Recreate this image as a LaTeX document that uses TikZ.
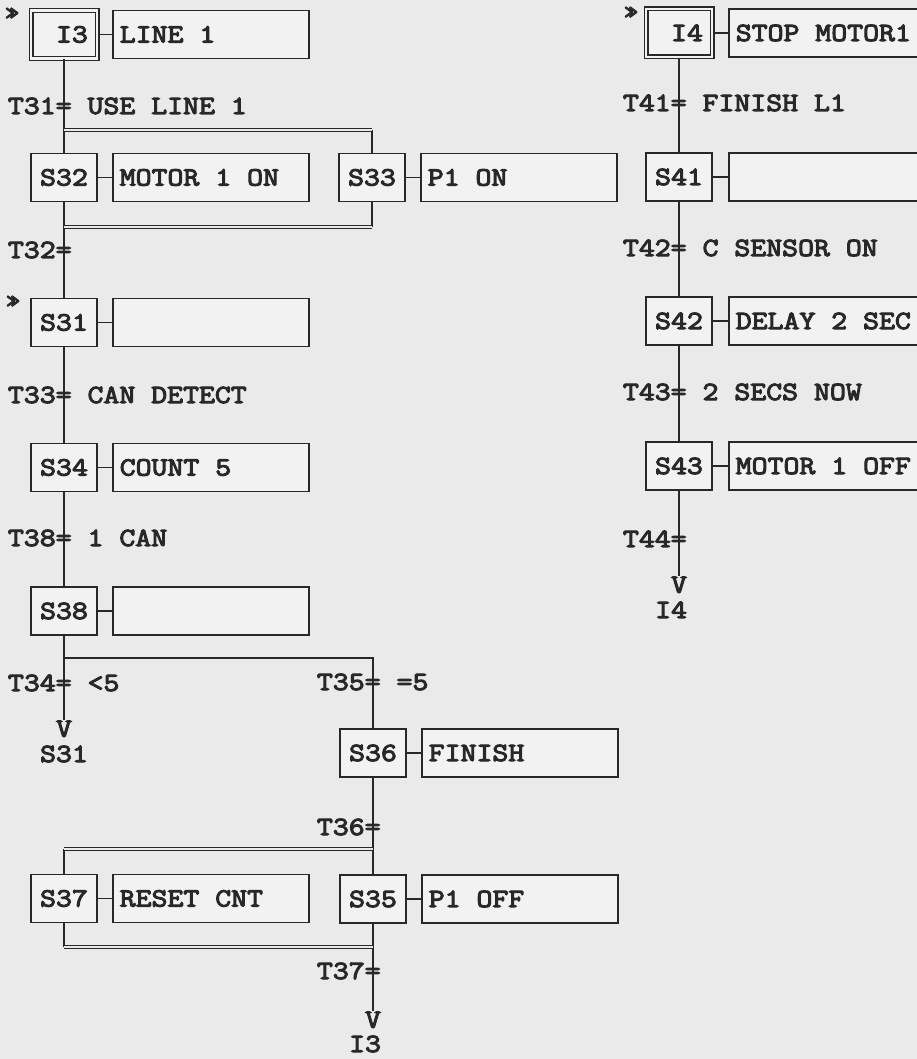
\documentclass[tikz,border=0pt]{standalone}
\usepackage{fontspec}
\newfontfamily\courfont[FakeStretch=1.18, FakeBold=4]{Latin Modern Mono}
\usepackage{tikz}
\usetikzlibrary{positioning}
\definecolor{ink}{RGB}{40,40,40}
\definecolor{paper}{RGB}{234,234,234}
\definecolor{boxfill}{RGB}{242,242,242}
\newcommand{\grafcetfont}{\fontsize{26.2}{30}\selectfont\courfont}
\newcommand{\actext}[1]{\makebox[182pt][l]{#1}}

\begin{document}
\begin{tikzpicture}[x=1pt, y=-1pt, color=ink, line width=1.5pt,
    stepbox/.style={draw, fill=boxfill, minimum width=66pt, minimum height=48pt, inner sep=0pt, text height=16pt, text depth=0pt, font=\grafcetfont},
    initbox/.style={stepbox, double=boxfill, double distance=2.6pt, line width=1.2pt},
    actbox/.style={draw, fill=boxfill, anchor=west, minimum height=48pt, inner xsep=7pt, inner ysep=0pt, text height=16pt, text depth=0pt, font=\grafcetfont},
    trans/.style={anchor=base west, xshift=-56.8pt, inner sep=0pt, font=\grafcetfont},
    jumpv/.style={anchor=north, inner sep=0pt, text height=16pt, text depth=0pt, font=\grafcetfont},
    jumplabel/.style={anchor=base, inner sep=0pt, text height=16pt, text depth=0pt, font=\grafcetfont},
    initmark/.style={inner sep=0pt, font=\fontsize{23}{23}\selectfont\courfont},
    dbl/.style={double=paper, double distance=2pt, line width=1.1pt}]
    \fill[paper] (0,0) rectangle (917,1059);
    \useasboundingbox (0,0) rectangle (917,1059);

    % left sequence
    \node[initmark] (m1) at (12,14) {»};
    \node[initbox] (i3) at (64,34.5) {\hphantom{0}I3};
    \node[actbox] (ai3) at (112,34.5) {\actext{LINE 1}};
    \node[trans] (t31) at (64,114) {T31= USE LINE 1};
    \coordinate (par1l) at (64,130);
    \coordinate (par1r) at (372,130);
    \node[stepbox] (s32) at (64,177.5) {S32};
    \node[actbox] (a32) at (112,177.5) {\actext{MOTOR 1 ON}};
    \node[stepbox] (s33) at (372,177.5) {S33};
    \node[actbox] (a33) at (420,177.5) {\actext{P1 ON}};
    \coordinate (par2l) at (64,227);
    \coordinate (par2r) at (372,227);
    \node[trans] (t32) at (64,258) {T32=};
    \node[initmark] (m2) at (13,302) {»};
    \node[stepbox] (s31) at (64,322.5) {S31};
    \node[actbox] (a31) at (112,322.5) {\actext{}};
    \node[trans] (t33) at (64,403) {T33= CAN DETECT};
    \node[stepbox] (s34) at (64,467.5) {S34};
    \node[actbox] (a34) at (112,467.5) {\actext{COUNT 5}};
    \node[trans] (t38) at (64,546) {T38= 1 CAN};
    \node[stepbox] (s38) at (64,611) {S38};
    \node[actbox] (a38) at (112,611) {\actext{}};
    \coordinate (alt) at (373,658);
    \node[trans] (t34) at (64,691) {T34= <5};
    \node[jumpv] (v31) at (64,720) {V};
    \node[jumplabel] (to31) at (64,762) {S31};
    \node[trans] (t35) at (373,690) {T35= =5};
    \node[stepbox] (s36) at (373,753) {S36};
    \node[actbox] (a36) at (421,753) {\actext{FINISH}};
    \node[trans] (t36) at (373,835) {T36=};
    \coordinate (par3l) at (64,849);
    \coordinate (par3r) at (373,849);
    \node[stepbox] (s37) at (64,898.5) {S37};
    \node[actbox] (a37) at (112,898.5) {\actext{RESET CNT}};
    \node[stepbox] (s35) at (373,899) {S35};
    \node[actbox] (a35) at (421,899) {\actext{P1 OFF}};
    \coordinate (par4l) at (64,947);
    \coordinate (par4r) at (373,947);
    \node[trans] (t37) at (373,979) {T37=};
    \node[jumpv] (v3) at (373,1011) {V};
    \node[jumplabel] (to3) at (373,1052) {I3\hphantom{0}};

    % right sequence
    \node[initmark] (m3) at (631,13) {»};
    \node[initbox] (i4) at (679,33) {\hphantom{0}I4};
    \node[actbox] (ai4) at (728,33) {\actext{STOP MOTOR1}};
    \node[trans] (t41) at (679,111) {T41= FINISH L1};
    \node[stepbox] (s41) at (679,177) {S41};
    \node[actbox] (a41) at (728,177) {\actext{}};
    \node[trans] (t42) at (679,256) {T42= C SENSOR ON};
    \node[stepbox] (s42) at (679,321) {S42};
    \node[actbox] (a42) at (728,321) {\actext{DELAY 2 SEC}};
    \node[trans] (t43) at (679,400) {T43= 2 SECS NOW};
    \node[stepbox] (s43) at (679,466) {S43};
    \node[actbox] (a43) at (728,466) {\actext{MOTOR 1 OFF}};
    \node[trans] (t44) at (679,547) {T44=};
    \node[jumpv] (v4) at (679,576) {V};
    \node[jumplabel] (to4) at (679,618) {I4\hphantom{0}};

    % links
    \draw (i3) -- (s32);
    \draw (s32) -- (s31);
    \draw (s31) -- (s34);
    \draw (s34) -- (s38);
    \draw (s38) -- (v31.north);
    \draw (s38) |- (alt) -- (s36);
    \draw (s36) -- (s35);
    \draw (s35) -- (v3.north);
    \draw (par1r) -- (s33);
    \draw (s33) -- (par2r);
    \draw (par3l) -- (s37);
    \draw (s37) -- (par4l);
    \draw[dbl] (par1l) -- (par1r);
    \draw[dbl] (par2l) -- (par2r);
    \draw[dbl] (par3l) -- (par3r);
    \draw[dbl] (par4l) -- (par4r);
    \draw (i4) -- (s41);
    \draw (s41) -- (s42);
    \draw (s42) -- (s43);
    \draw (s43) -- (v4.north);
    \foreach \s/\a in {i3/ai3, s32/a32, s33/a33, s31/a31, s34/a34, s38/a38, s36/a36, s37/a37, s35/a35, i4/ai4, s41/a41, s42/a42, s43/a43}
        \draw (\s) -- (\a);
\end{tikzpicture}
\end{document}
